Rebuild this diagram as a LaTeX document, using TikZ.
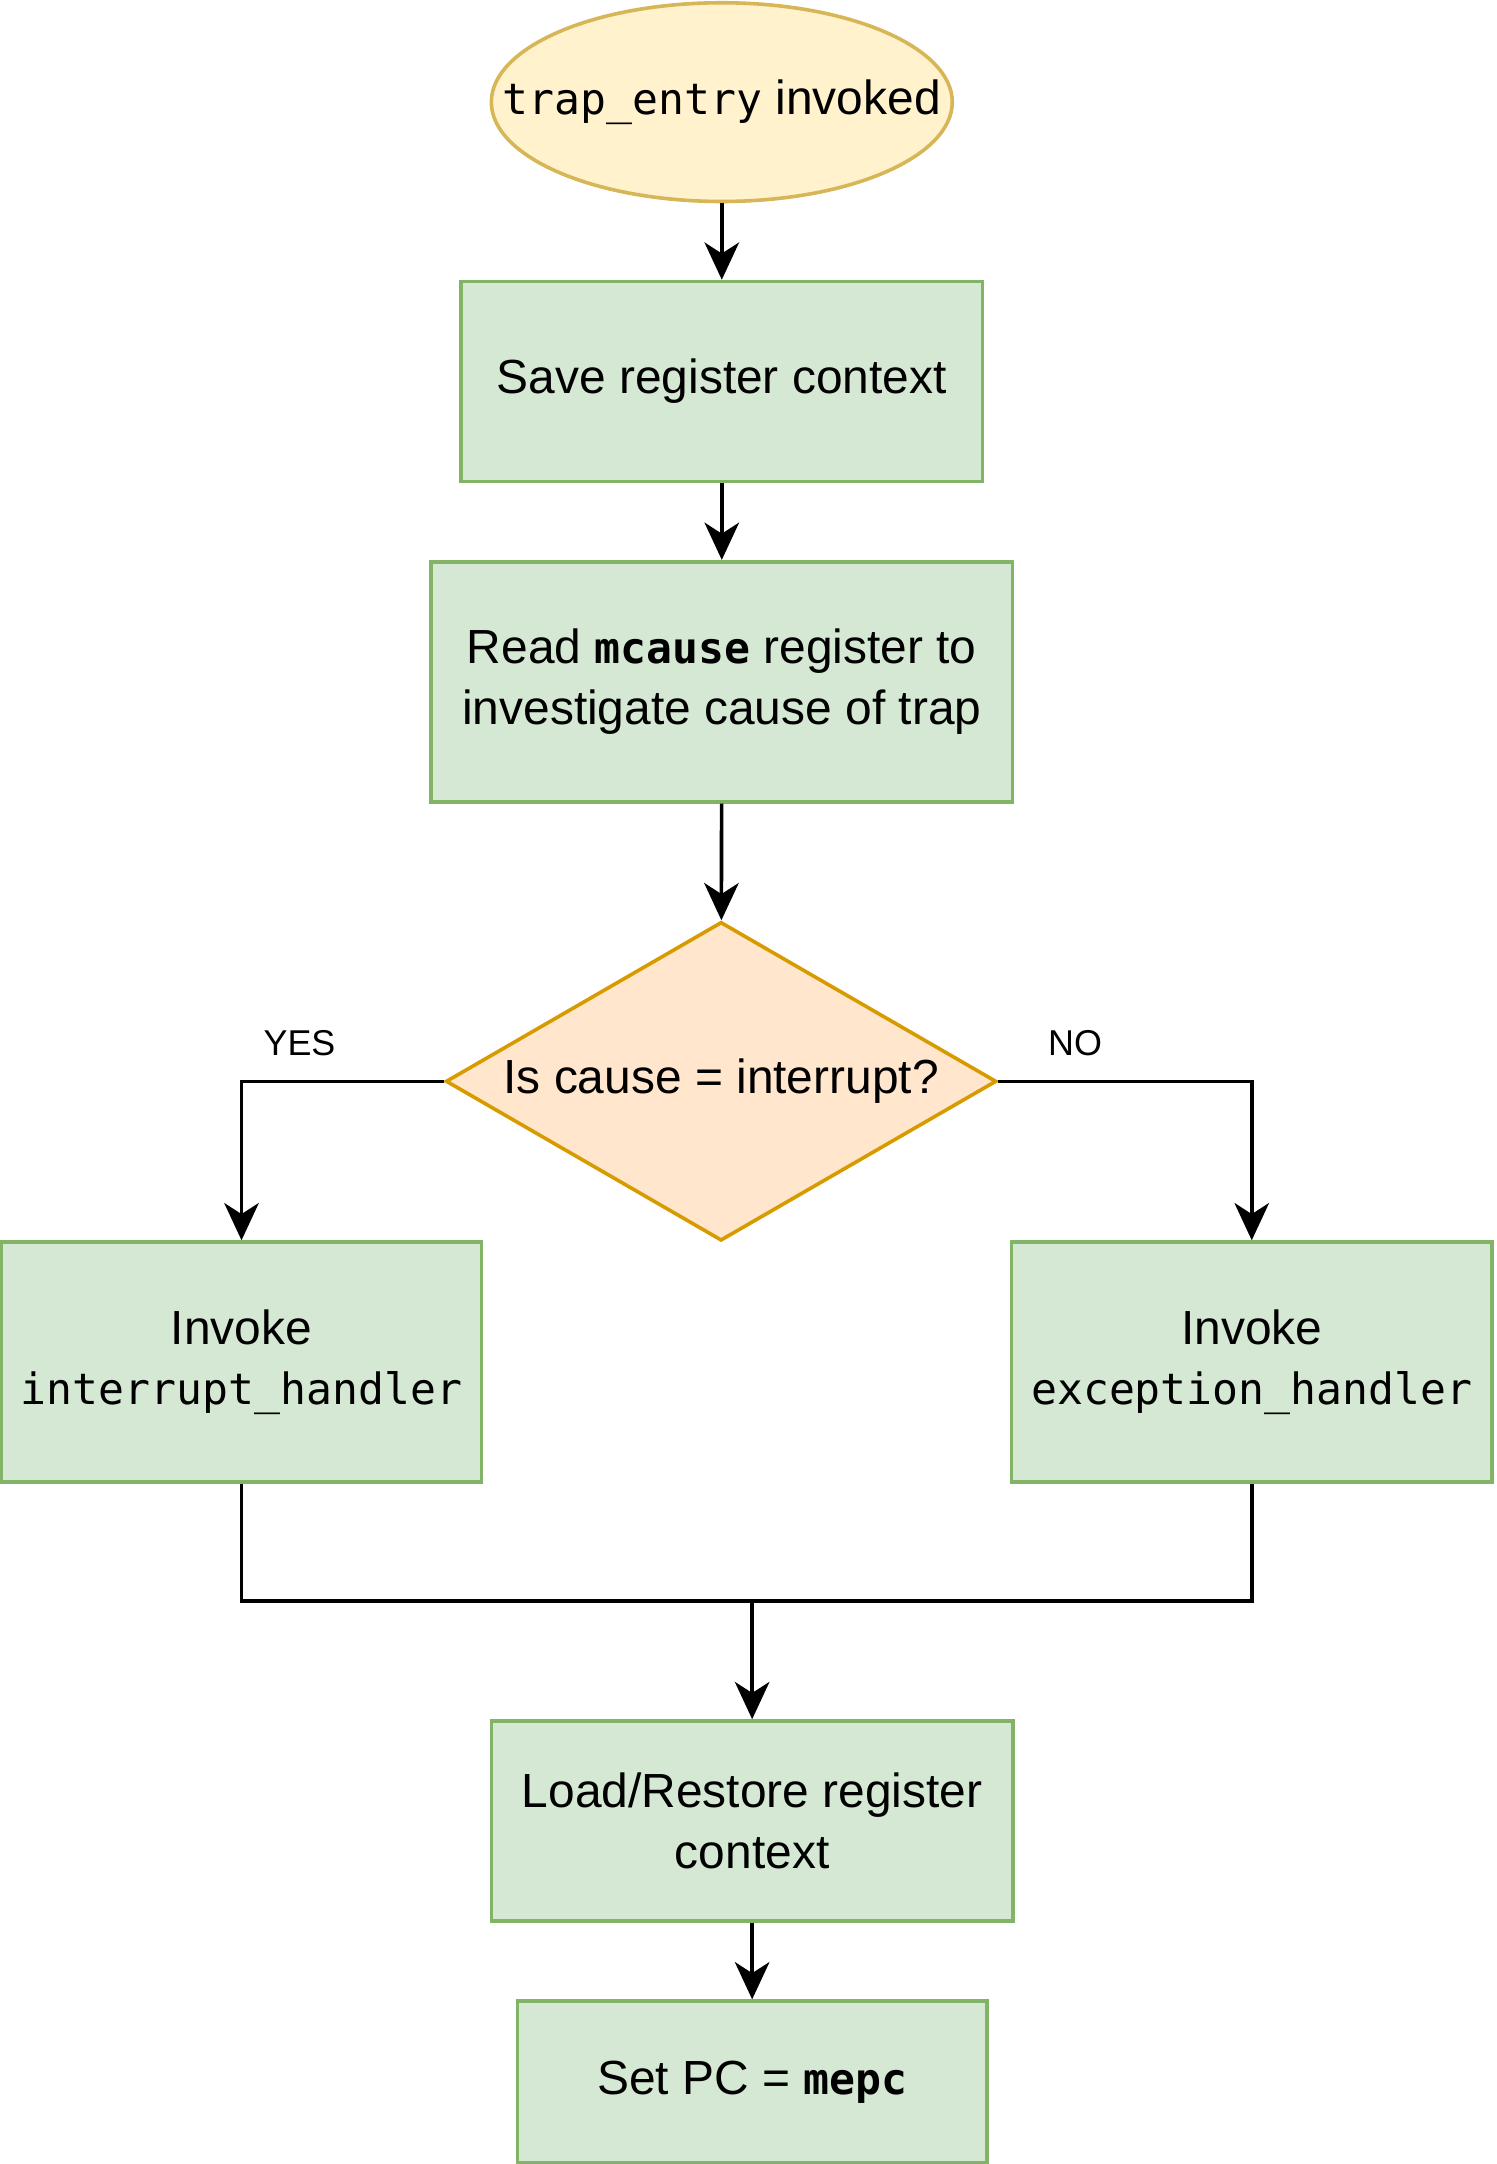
\documentclass[tikz,border=0pt]{standalone}
\usepackage{fontspec}
\setmainfont{Liberation Sans}
\setmonofont[Scale=0.9]{DejaVu Sans Mono}
\usepackage{tikz}
\usetikzlibrary{arrows.meta,shapes.geometric}

\definecolor{greenfill}{HTML}{D5E8D4}
\definecolor{greenline}{HTML}{82B366}
\definecolor{yellowfill}{HTML}{FFF2CC}
\definecolor{yellowline}{HTML}{D6B656}
\definecolor{orangefill}{HTML}{FFE6CC}
\definecolor{orangeline}{HTML}{D79B00}

\begin{document}
\begin{tikzpicture}[
        x=1pt, y=-1pt,
        font=\fontsize{34.7}{44}\selectfont,
        every path/.append style={line width=2.6pt},
        stepbox/.style={rectangle,draw=greenline,fill=greenfill,align=center,inner sep=0pt},
        startnode/.style={ellipse,draw=yellowline,fill=yellowfill,inner xsep=-45pt,inner ysep=0pt,
            minimum width=334,minimum height=144},
        decision/.style={diamond,draw=orangeline,fill=orangefill,inner sep=0pt,aspect=1.727,
            minimum width=399,minimum height=231},
        answer/.style={font=\fontsize{26}{30}\selectfont,inner sep=0pt},
        flow/.style={-{Stealth[length=27pt,width=25pt,inset=8pt]}}
    ]
        \useasboundingbox (0,0) rectangle (1084,1568);

        \node [startnode] (start) at (523,74) {\texttt{trap\_entry} invoked};
        \node [stepbox,minimum width=378,minimum height=145] (save) at (523,276.5) {Save register context};
        \node [stepbox,minimum width=421,minimum height=174] (read) at (523,494)
            {Read \textbf{\ttfamily mcause} register to\\investigate cause of trap};
        \node [decision] (cause) at (522.5,783.5) {Is cause = interrupt?};
        \node [stepbox,minimum width=348,minimum height=174] (irq) at (175,987)
            {Invoke\\\texttt{interrupt\_handler}};
        \node [stepbox,minimum width=348,minimum height=174] (exc) at (907,987)
            {Invoke\\\texttt{exception\_handler}};
        \node [stepbox,minimum width=378,minimum height=145] (restore) at (545,1319.5)
            {Load/Restore register\\context};
        \node [stepbox,minimum width=340,minimum height=117] (setpc) at (545,1508.5)
            {Set PC = \textbf{\ttfamily mepc}};

        \node [answer] (yes) at (217,756) {YES};
        \node [answer] (no)  at (779,756) {NO};
        \coordinate (join) at (545,1160);

        \draw [flow] (start) -- (save);
        \draw [flow] (save) -- (read);
        \draw [flow] (read) -- (cause);
        \draw [flow] (cause.west) -| (irq);
        \draw [flow] (cause.east) -| (exc);
        \draw (irq.south) |- (join) -| (exc.south);
        \draw [flow] (join) -- (restore);
        \draw [flow] (restore) -- (setpc);
    \end{tikzpicture}
\end{document}
